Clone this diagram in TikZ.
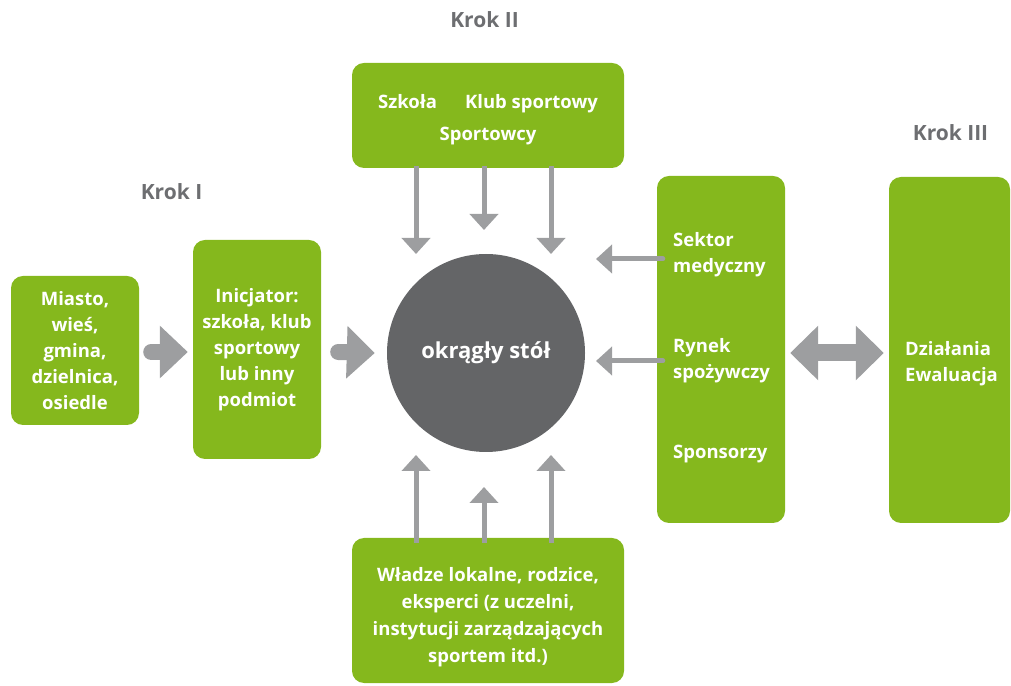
\documentclass[tikz,border=0pt]{standalone}
\usepackage{fontspec}
\setmainfont{Open Sans}
\usetikzlibrary{arrows.meta}
\definecolor{grn}{HTML}{85B81D}
\definecolor{arr}{HTML}{9D9EA0}
\definecolor{circ}{HTML}{646567}
\definecolor{krokc}{HTML}{6D6E71}
\begin{document}
\begin{tikzpicture}[x=1pt,y=1pt,
  box/.style={fill=grn, draw=none, rounded corners=12pt, text=white,
    font=\bfseries\fontsize{18.5}{26}\selectfont, align=center, inner sep=0pt},
  txt/.style={text=white, font=\bfseries\fontsize{18.5}{27}\selectfont,
    align=center, inner sep=0pt},
  lbl/.style={text=white, font=\bfseries\fontsize{18.5}{26}\selectfont,
    align=left, inner sep=0pt, anchor=base west},
  kroklbl/.style={text=krokc, font=\bfseries\fontsize{21}{25}\selectfont, inner sep=0pt},
  thinarrow/.style={draw=arr, line width=5pt, -{Triangle[length=16pt,width=28pt]}},
  fatarrow/.style={draw=arr, line width=16pt, line cap=round, -{Triangle[length=28pt,width=51pt]}},
  fatboth/.style={draw=arr, line width=17pt,
    {Triangle[length=28pt,width=53pt]}-{Triangle[length=28pt,width=53pt]}},
]
\useasboundingbox (0,0) rectangle (1011,685);

% boxes
\node[box, minimum width=128pt, minimum height=149pt] (miasto) at (75,334.5)
  {Miasto,\\wieś,\\gmina,\\dzielnica,\\osiedle};
\node[box, minimum width=128pt, minimum height=219pt] (inic) at (257,335.5)
  {Inicjator:\\szkoła, klub\\sportowy\\lub inny\\podmiot};
\node[circle, fill=circ, minimum size=198pt, inner sep=0pt, text=white,
  font=\bfseries\fontsize{22}{26}\selectfont] (stol) at (486,332) {okrągły stół};
\node[box, minimum width=272pt, minimum height=105pt] (top) at (488,569.5) {};
\node[box, minimum width=272pt, minimum height=145pt] (bot) at (488,74.5) {};
\node[box, minimum width=128pt, minimum height=347pt] (mid) at (721,335.5) {};
\node[box, minimum width=121pt, minimum height=346pt] (right) at (949.5,335) {};

% texts in boxes
\node[txt] (t0) at (488,565) {Szkoła\hspace*{28pt}Klub sportowy\\[5pt]Sportowcy};
\node[txt] (t5) at (488,68) {Władze lokalne, rodzice,\\eksperci (z uczelni,\\instytucji zarządzających\\sportem itd.)};
\node[lbl] (t1) at (673,412) {Sektor\\medyczny};
\node[lbl] (t2) at (673,306) {Rynek\\spożywczy};
\node[lbl] (t3) at (673,226) {Sponsorzy};
\node[lbl] (t4) at (905,303) {Działania\\Ewaluacja};

% step labels
\node[kroklbl] (k1) at (171.5,493) {Krok I};
\node[kroklbl] (k2) at (484.5,665) {Krok II};
\node[kroklbl] (k3) at (950.5,552) {Krok III};

% free ends
\coordinate (d1) at (416,431);
\coordinate (d2) at (484,455);
\coordinate (d3) at (551,431);
\coordinate (u1) at (416,230);
\coordinate (u2) at (484,198);
\coordinate (u3) at (551,230);
\coordinate (l1) at (596,426);
\coordinate (l2) at (596,324);

% connectors
\draw[fatarrow] ([xshift=12pt,yshift=-1.5pt]miasto.east) -- ([xshift=-5pt,yshift=-2.5pt]inic.west);
\draw[fatarrow] ([xshift=17pt,yshift=-2.5pt]inic.east) -- ([xshift=-12pt]stol.west);

\draw[thinarrow] ([xshift=-72pt,yshift=2pt]top.south) -- (d1);
\draw[thinarrow] ([xshift=-4pt,yshift=2pt]top.south) -- (d2);
\draw[thinarrow] ([xshift=63pt,yshift=2pt]top.south) -- (d3);

\draw[thinarrow] ([xshift=-72pt,yshift=-5pt]bot.north) -- (u1);
\draw[thinarrow] ([xshift=-4pt,yshift=-5pt]bot.north) -- (u2);
\draw[thinarrow] ([xshift=63pt,yshift=-5pt]bot.north) -- (u3);

\draw[thinarrow, line cap=round] ([xshift=6pt,yshift=90.5pt]mid.west) -- (l1);
\draw[thinarrow, line cap=round] ([xshift=6pt,yshift=-11.5pt]mid.west) -- (l2);

\draw[fatboth] ([xshift=5pt,yshift=-3.5pt]mid.east) -- ([xshift=-5pt,yshift=-3pt]right.west);
\end{tikzpicture}
\end{document}
